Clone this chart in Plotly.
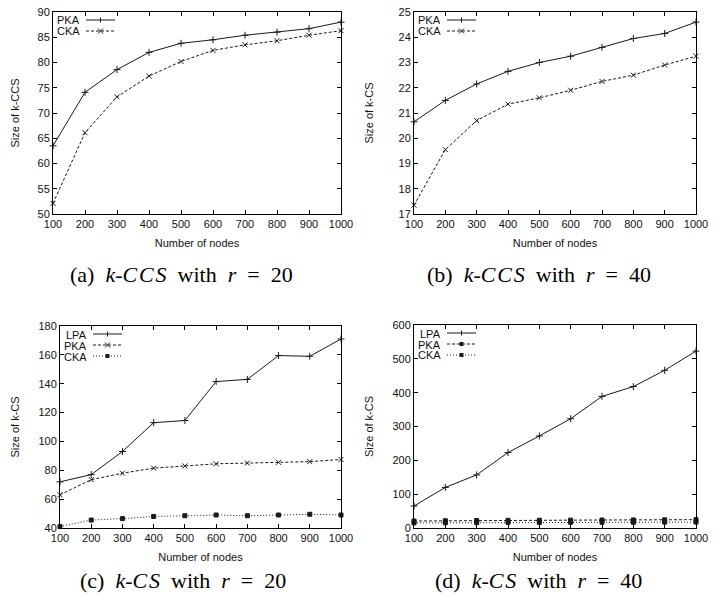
import plotly.graph_objects as go

nodes = [100, 200, 300, 400, 500, 600, 700, 800, 900, 1000]

# (a) k-CCS, r = 20
a_pka = [63.5, 74.1, 78.6, 82.0, 83.8, 84.5, 85.4, 86.0, 86.7, 88.0]
a_cka = [52.1, 66.1, 73.2, 77.3, 80.2, 82.4, 83.5, 84.3, 85.4, 86.3]
# (b) k-CCS, r = 40
b_pka = [20.65, 21.5, 22.15, 22.65, 23.0, 23.25, 23.6, 23.95, 24.15, 24.6]
b_cka = [17.35, 19.55, 20.7, 21.35, 21.6, 21.9, 22.25, 22.5, 22.9, 23.25]
# (c) k-CS, r = 20
c_lpa = [72, 77, 93, 113, 114.5, 141.5, 143, 159.5, 159, 171]
c_pka = [63, 73.5, 78, 81.5, 83, 84.5, 85, 85.5, 86, 87.5]
c_cka = [41, 45.5, 46.5, 48, 48.5, 49, 48.5, 49, 49.5, 49]
# (d) k-CS, r = 40
d_lpa = [65, 120, 157, 223, 272, 323, 389, 418, 466, 523]
d_pka = [20.6, 21.5, 22.1, 22.6, 23.0, 23.2, 23.6, 23.9, 24.1, 24.6]
d_cka = [15.0, 15.5, 16.0, 16.5, 16.5, 17.0, 17.0, 17.0, 17.5, 17.5]

x_title = "Number of nodes"
y_titles = ["Size of k-CCS", "Size of k-CS", "Size of k-CS", "Size of k-CS"]
SP = "&nbsp;"
captions = [f"(a){SP} <i>k</i>-<i>C&#8202;C&#8202;S</i>{SP} with{SP} <i>r</i>{SP} ={SP} 20",
            f"(b){SP} <i>k</i>-<i>C&#8202;C&#8202;S</i>{SP} with{SP} <i>r</i>{SP} ={SP} 40",
            f"(c){SP} <i>k</i>-<i>C&#8202;S</i>{SP} with{SP} <i>r</i>{SP} ={SP} 20",
            f"(d){SP} <i>k</i>-<i>C&#8202;S</i>{SP} with{SP} <i>r</i>{SP} ={SP} 40"]
y_ranges = [[50, 90], [17, 25], [40, 180], [0, 600]]
y_dticks = [5, 1, 20, 100]
y_standoffs = [15, 22, 16, 16]

W, H = 722, 604
# plot areas in pixels: (left, right, top, bottom)
areas = [(53, 341, 12, 214), (414, 696, 12, 214), (60, 341, 326, 528), (414, 696, 325, 528)]

panels = [
    [("PKA", a_pka, "solid", "cross-thin", 5), ("CKA", a_cka, "3px,2px", "x-thin", 5)],
    [("PKA", b_pka, "solid", "cross-thin", 5), ("CKA", b_cka, "3px,2px", "x-thin", 5)],
    [("LPA", c_lpa, "solid", "cross-thin", 5), ("PKA", c_pka, "3px,2px", "x-thin", 5),
     ("CKA", c_cka, "1px,2px", "square", 4)],
    [("LPA", d_lpa, "solid", "cross-thin", 5), ("PKA", d_pka, "3px,2px", "square", 4),
     ("CKA", d_cka, "1px,2px", "square", 4)],
]

fig = go.Figure()
layout = dict(width=W, height=H, margin=dict(l=0, r=0, t=0, b=0),
              paper_bgcolor="white", plot_bgcolor="white", showlegend=False,
              font=dict(family="Liberation Sans, Arial, sans-serif", size=11, color="#111"))
shapes = []
annotations = []
LC = "#1a1a1a"

for i, (series, area) in enumerate(zip(panels, areas)):
    n = "" if i == 0 else str(i + 1)
    xa, ya = "x" + n, "y" + n
    l, r, t, b = area
    layout["xaxis" + n] = dict(
        domain=[l / W, r / W], anchor=ya, range=[100, 1000], tickmode="linear",
        tick0=100, dtick=100, ticks="inside", ticklen=4, tickcolor="black",
        showline=True, linecolor="black", linewidth=1, mirror="ticks",
        showgrid=False, zeroline=False, automargin=False,
        title=dict(text=x_title, standoff=10, font=dict(size=11)),
        tickfont=dict(size=11))
    layout["yaxis" + n] = dict(
        domain=[1 - b / H, 1 - t / H], anchor=xa, range=y_ranges[i], tickmode="linear",
        tick0=y_ranges[i][0], dtick=y_dticks[i], ticks="inside", ticklen=4, tickcolor="black",
        showline=True, linecolor="black", linewidth=1, mirror="ticks",
        showgrid=False, zeroline=False, automargin=False,
        title=dict(text=y_titles[i], standoff=y_standoffs[i], font=dict(size=11)),
        tickfont=dict(size=11))
    for j, (name, vals, dash, sym, msize) in enumerate(series):
        fig.add_trace(go.Scatter(
            x=nodes, y=vals, name=name, mode="lines+markers", xaxis=xa, yaxis=ya,
            line=dict(color=LC, width=1, dash=dash),
            marker=dict(symbol=sym, size=msize, color=LC, line=dict(color=LC, width=1)),
            cliponaxis=False))
        # gnuplot-style key: label then line sample
        ky = t + 8 + j * 11
        kx_text = l + 28
        annotations.append(dict(xref="paper", yref="paper", x=kx_text / W, y=1 - ky / H,
                                text=name, showarrow=False, xanchor="right", yanchor="middle",
                                height=11, borderpad=0, font=dict(size=11)))
        x0, x1 = l + 33, l + 62
        shapes.append(dict(type="line", xref="paper", yref="paper", x0=x0 / W, x1=x1 / W,
                           y0=1 - ky / H, y1=1 - ky / H,
                           line=dict(color=LC, width=1, dash=dash)))
        cx = (x0 + x1) / 2
        if sym == "square":
            shapes.append(dict(type="rect", xref="paper", yref="paper",
                               x0=(cx - 2) / W, x1=(cx + 2) / W,
                               y0=1 - (ky - 2) / H, y1=1 - (ky + 2) / H,
                               fillcolor=LC, line=dict(width=0)))
        elif sym == "cross-thin":
            shapes.append(dict(type="line", xref="paper", yref="paper", x0=cx / W, x1=cx / W,
                               y0=1 - (ky - 2.5) / H, y1=1 - (ky + 2.5) / H,
                               line=dict(color=LC, width=1)))
        else:
            for s in (1, -1):
                shapes.append(dict(type="line", xref="paper", yref="paper",
                                   x0=(cx - 2.5) / W, x1=(cx + 2.5) / W,
                                   y0=1 - (ky - 2.5 * s) / H, y1=1 - (ky + 2.5 * s) / H,
                                   line=dict(color=LC, width=1)))

cap_pos = [(181, 274), (539, 274), (183, 580), (538, 580)]
for (cx, cy), txt in zip(cap_pos, captions):
    annotations.append(dict(xref="paper", yref="paper", x=cx / W, y=1 - cy / H, text=txt,
                            showarrow=False, xanchor="center", yanchor="middle",
                            font=dict(family="Liberation Serif", size=22, color="black")))

layout["shapes"] = shapes
layout["annotations"] = annotations
fig.update_layout(**layout)
fig.write_html("out.html", config={"displayModeBar": False},
               post_script="document.body.style.margin='0';document.body.style.padding='0';")
